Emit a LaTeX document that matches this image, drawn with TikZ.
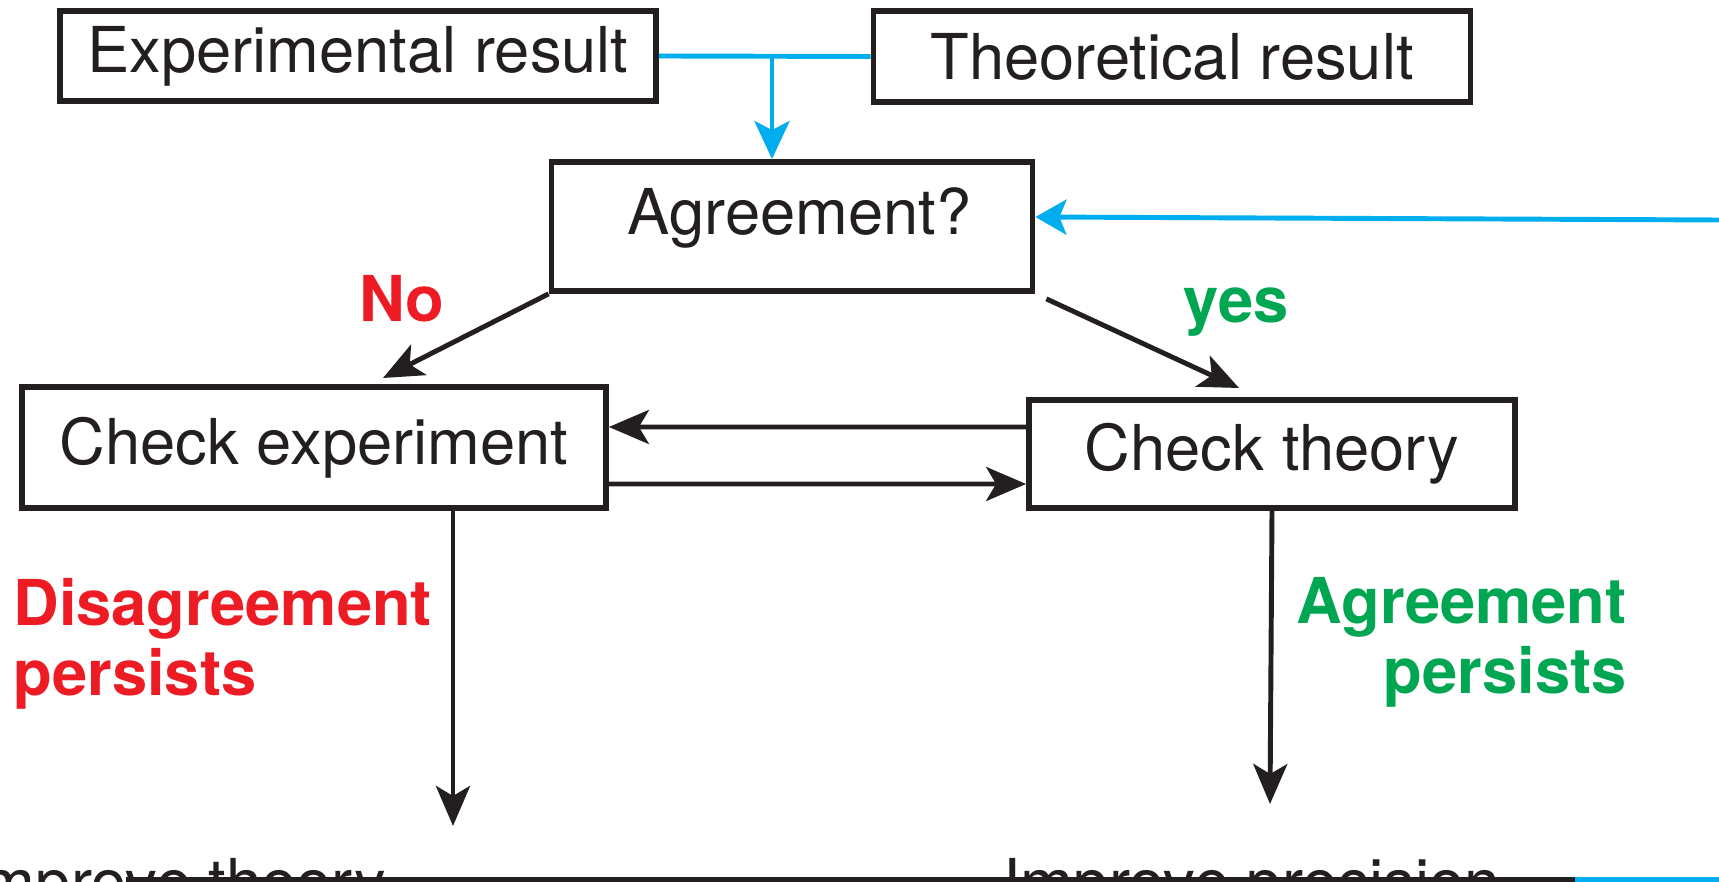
\documentclass[tikz,border=0pt]{standalone}
\usepackage{fontspec}
\setmainfont{TeX Gyre Heros}
\usetikzlibrary{arrows.meta}
\definecolor{inkblack}{RGB}{35,31,32}
\definecolor{loopblue}{RGB}{0,174,239}
\definecolor{nored}{RGB}{237,28,36}
\definecolor{yesgreen}{RGB}{0,166,81}

\begin{document}
\begin{tikzpicture}[
    box/.style={draw=inkblack, line width=3.3pt, rectangle, text=inkblack, font=\fontsize{36}{40}\selectfont},
    link/.style={draw=inkblack, line width=2.8pt, -{Stealth[length=0.8cm,width=0.68cm,inset=0.2cm]}},
    feed/.style={draw=loopblue, line width=2.8pt},
    tag/.style={font=\fontsize{36}{39.8}\selectfont\bfseries, inner sep=0pt}]
  \useasboundingbox (0,0) rectangle (34.38,17.64);

  \node[box, minimum width=11.92cm, minimum height=1.8cm] at (7.16,16.52) (expres) {Experimental result};
  \node[box, minimum width=11.94cm, minimum height=1.82cm] at (23.44,16.51) (theores) {Theoretical result};
  \node[box, minimum width=9.62cm, minimum height=2.58cm, text depth=0.6cm] at (15.84,13.11) (agree) {\hspace{0.3cm}Agreement?};
  \node[box, minimum width=11.68cm, minimum height=2.42cm] at (6.28,8.69) (chkexp) {Check experiment};
  \node[box, minimum width=9.72cm, minimum height=2.16cm] at (25.44,8.56) (chkth) {Check theory};

  \coordinate (join) at (15.44,16.52);
  \coordinate (fb) at (34.38,13.24);
  \coordinate (notip) at (7.66,10.08);
  \coordinate (yestip) at (24.78,9.88);
  \coordinate (dtip) at (9.06,1.12);
  \coordinate (atip) at (25.4,1.56);
  \coordinate (lowL) at (2.52,0.05);
  \coordinate (lowM) at (31.5,0.05);
  \coordinate (lowR) at (34.38,0.05);

  \draw[feed] (expres.east) -- (theores.west);
  \draw[feed, -{Stealth[length=0.76cm,width=0.7cm,inset=0.18cm]}] (join) -- (join |- agree.north);
  \draw[feed, -{Stealth[length=0.62cm,width=0.7cm,inset=0.14cm]}] (fb) -- ([yshift=0.19cm]agree.east);

  \draw[link] (agree.south west) -- (notip);
  \draw[link] ([xshift=0.22cm,yshift=-0.1cm]agree.south east) -- (yestip);
  \draw[link] ([yshift=0.54cm]chkth.west) -- ([yshift=0.41cm]chkexp.east);
  \draw[link] ([yshift=-0.73cm]chkexp.east) -- ([yshift=-0.6cm]chkth.west);
  \draw[link] (dtip |- chkexp.south) -- (dtip);
  \draw[link] (chkth.south) -- (atip);

  \node[tag, text=nored, anchor=base] at (8.04,11.2) (nolab) {No};
  \node[tag, text=yesgreen, anchor=base] at (24.72,11.18) (yeslab) {yes};
  \node[tag, text=nored, anchor=north west, align=left] at (0.26,6.08) (dislab) {Disagreement\\persists};
  \node[tag, text=yesgreen, anchor=north east, align=right] at (32.54,6.1) (agrlab) {Agreement\\persists};

  \node[inner sep=0pt, anchor=base west, text=inkblack, font=\fontsize{36}{40}\selectfont] at (-0.7,-0.46) (imptheo) {Improve theory};
  \node[inner sep=0pt, anchor=base west, text=inkblack, font=\fontsize{36}{40}\selectfont] at (20.06,-0.46) (impprec) {Improve precision};

  \draw[inkblack, line width=3pt] (lowL) -- (lowM);
  \draw[loopblue, line width=3pt] (lowM) -- (lowR);
\end{tikzpicture}
\end{document}
